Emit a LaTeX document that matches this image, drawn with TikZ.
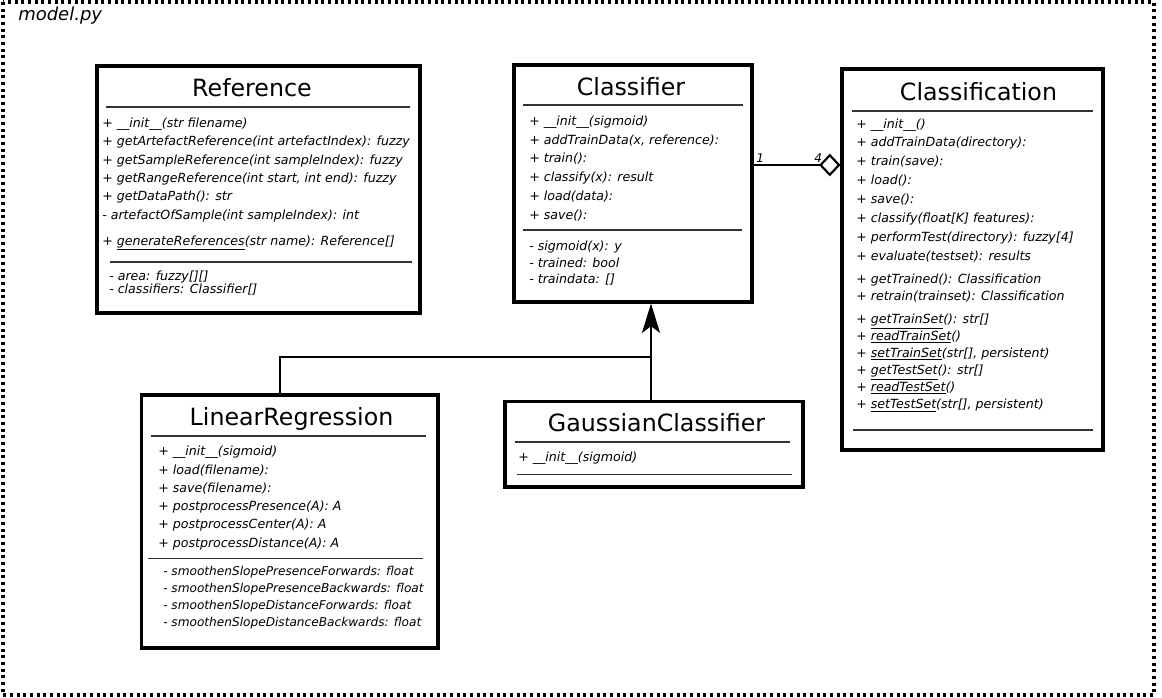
\documentclass[tikz,border=0pt]{standalone}
\usepackage{fontspec}
\setmainfont{DejaVu Sans}
\usepackage{tikz}
\usetikzlibrary{arrows.meta, fit, positioning}
\tikzset{classbox/.style = {draw, line width=2.3pt, inner sep=0pt},
	classtitle/.style = {anchor=base, inner sep=0pt, font=\fontsize{17.8}{20}\selectfont},
	member/.style = {anchor=base west, inner sep=0pt, font=\fontsize{9.45}{11}\selectfont\itshape},
	sepline/.style = {line width=1.2pt, black!80},
	mult/.style = {anchor=base west, inner sep=0pt, font=\fontsize{9}{10}\selectfont\itshape},
	link/.style = {line width=1.6pt}}
\NewDocumentCommand{\memberlist}{O{} m m m m m}{%
	\foreach \txt [count=\i] in {#6} {\node[member,#1] (#2-\i) at ({#3},{#4+#5*(\i-1)}) {\txt};}
}

\begin{document}
\begin{tikzpicture}[x=0.75pt, y=-0.75pt]
\useasboundingbox (0,0) rectangle (1162,697);
\draw[line width=2.4pt, dash pattern=on 2.2pt off 2.8pt] (3,2) rectangle (1154,695);
\node[anchor=base west, inner sep=0pt, font=\fontsize{13.5}{16}\selectfont\itshape] (file) at (18,20) {model.py};

% Reference
\node[classbox, fit={(97,66) (420,313)}] (ref) {};
\node[classtitle] (ref-title) at (252,96) {Reference};
\draw[sepline] (106,106.7) -- (410,106.7);
\memberlist{ref-op}{102}{127.5}{18.3}{%
	{+ \_\_init\_\_(str filename)},
	{+ getArtefactReference(int artefactIndex): fuzzy},
	{+ getSampleReference(int sampleIndex): fuzzy},
	{+ getRangeReference(int start, int end): fuzzy},
	{+ getDataPath(): str},
	{- artefactOfSample(int sampleIndex): int}}
\memberlist{ref-st}{102}{245}{18}{{+ \underline{generateReferences}(str name): Reference[]}}
\draw[sepline] (110,261.7) -- (412,261.7);
\memberlist{ref-at}{109}{280.3}{12.7}{{- area: fuzzy[][]}, {- classifiers: Classifier[]}}

% Classifier
\node[classbox, fit={(514,65) (752,302)}] (cls) {};
\node[classtitle] (cls-title) at (631,95) {Classifier};
\draw[sepline] (523,105) -- (743,105);
\memberlist{cls-op}{529}{125.5}{18.7}{%
	{+ \_\_init\_\_(sigmoid)},
	{+ addTrainData(x, reference):},
	{+ train():},
	{+ classify(x): result},
	{+ load(data):},
	{+ save():}}
\draw[sepline] (523,230) -- (742,230);
\memberlist{cls-at}{529}{250.5}{16.7}{{- sigmoid(x): y}, {- trained: bool}, {- traindata: []}}

% Classification
\node[classbox, fit={(842,69) (1103,450)}] (clsf) {};
\node[classtitle] (clsf-title) at (978.5,100.5) {Classification};
\draw[sepline] (852,110.7) -- (1093,110.7);
\memberlist{clsf-op}{856}{128}{18.9}{%
	{+ \_\_init\_\_()},
	{+ addTrainData(directory):},
	{+ train(save):},
	{+ load():},
	{+ save():},
	{+ classify(float[K] features):},
	{+ performTest(directory): fuzzy[4]},
	{+ evaluate(testset): results}}
\memberlist{clsf-rt}{856}{283.3}{16.7}{%
	{+ getTrained(): Classification},
	{+ retrain(trainset): Classification}}
\memberlist{clsf-st}{856}{323.3}{17.1}{%
	{+ \underline{getTrainSet}(): str[]},
	{+ \underline{readTrainSet}()},
	{+ \underline{setTrainSet}(str[], persistent)},
	{+ \underline{getTestSet}(): str[]},
	{+ \underline{readTestSet}()},
	{+ \underline{setTestSet}(str[], persistent)}}
\draw[sepline] (853,430) -- (1093,430);

% LinearRegression
\node[classbox, fit={(141.7,395) (438,648)}] (lr) {};
\node[classtitle] (lr-title) at (291.5,425) {LinearRegression};
\draw[sepline] (150.7,436) -- (426,436);
\memberlist{lr-op}{158}{455.7}{18.3}{%
	{+ \_\_init\_\_(sigmoid)},
	{+ load(filename):},
	{+ save(filename):},
	{+ postprocessPresence(A): A},
	{+ postprocessCenter(A): A},
	{+ postprocessDistance(A): A}}
\draw[sepline] (148,558.3) -- (422.7,558.3);
\memberlist[font=\fontsize{9.1}{11}\selectfont\itshape]{lr-at}{163}{575}{17.3}{%
	{- smoothenSlopePresenceForwards: float},
	{- smoothenSlopePresenceBackwards: float},
	{- smoothenSlopeDistanceForwards: float},
	{- smoothenSlopeDistanceBackwards: float}}

% GaussianClassifier
\node[classbox, fit={(505,401.7) (803,487)}] (gauss) {};
\node[classtitle] (gauss-title) at (656.5,431.5) {GaussianClassifier};
\draw[sepline] (515,441.7) -- (790,441.7);
\memberlist{gauss-op}{518}{461}{18}{{+ \_\_init\_\_(sigmoid)}}
\draw[sepline] (516.7,474.3) -- (791.7,474.3);

% aggregation
\coordinate (assoc) at (780,165);
\draw[link, -{Diamond[open, length=16pt, width=17pt]}] (cls.east |- assoc) -- (clsf.west |- assoc);
\node[mult] (one) at (756,162) {1};
\node[mult] (four) at (814,162) {4};

% inheritance
\coordinate (inh) at (651,357);
\coordinate (lrj) at (280,357);
\draw[link, -{Stealth[length=22pt, width=13.5pt, inset=5pt]}] (gauss.north -| inh) -- (cls.south -| inh);
\draw[link] (lr.north -| lrj) -- (lrj) -- (inh);
\end{tikzpicture}
\end{document}
